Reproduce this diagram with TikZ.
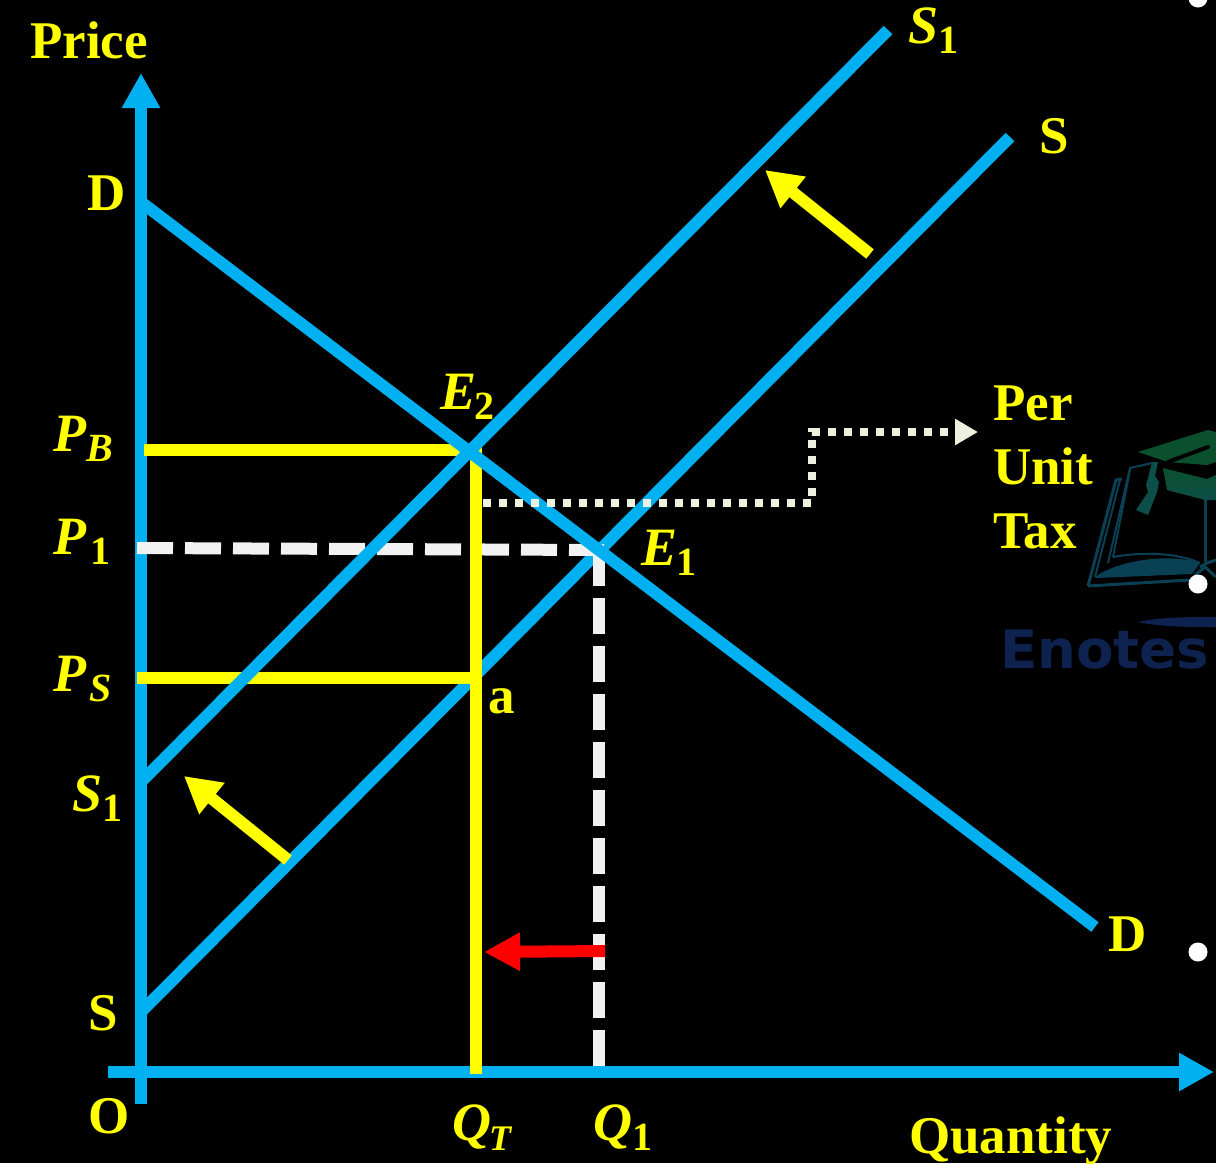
\documentclass[tikz,border=0pt]{standalone}
\usepackage{fontspec}
\setmainfont{Liberation Serif}
\newfontfamily\markfont[FakeStretch=1.03]{DejaVu Sans}
\usetikzlibrary{arrows.meta}
\definecolor{AxisBlue}{RGB}{0,176,240}
\definecolor{LabelYellow}{RGB}{255,255,0}
\definecolor{DashWhite}{RGB}{242,242,242}
\definecolor{DotWhite}{RGB}{235,241,222}
\definecolor{MarkNavy}{RGB}{14,34,80}
\definecolor{CapGreen}{RGB}{10,80,45}
\definecolor{CapTeal}{RGB}{12,78,72}
\definecolor{BookTeal}{RGB}{10,64,84}
\newcommand{\sublab}[2]{{\fontsize{54}{60}\selectfont\textit{#1}}\raisebox{-10.5pt}{\fontsize{40}{40}\selectfont #2}}

\begin{document}
\begin{tikzpicture}[
  x=1pt,y=-1pt,
  curveline/.style={draw=AxisBlue,line width=12pt},
  axisline/.style={draw=AxisBlue,line width=12pt,-{Triangle[length=35pt,width=36pt]}},
  priceline/.style={draw=LabelYellow,line width=12pt},
  guide/.style={draw=DashWhite,line width=12pt,dash pattern=on 36pt off 12pt},
  moved/.style={draw=LabelYellow,line width=12pt,-{Triangle[length=36pt,width=38pt]}},
  lab/.style={text=LabelYellow,anchor=base west,inner sep=0pt,font=\fontsize{53}{64}\selectfont\bfseries}
]
\clip (0,0) rectangle (1216,1163);
\fill[black] (0,0) rectangle (1216,1163);

% watermark
\fill[CapGreen] (1138,452) -- (1208,430) -- (1216,432) -- (1216,462) -- (1207,465) -- (1168,462) -- cycle;
\draw[black,line width=4pt,line cap=round] (1168,462) -- (1208,447);
\shade[top color=CapGreen,bottom color=CapTeal] (1163,468) -- (1207,479) -- (1216,475) -- (1216,500) -- (1205,500) -- (1167,490) -- cycle;
\fill[CapTeal] (1152,462) -- (1148,478) -- (1146,485) -- (1148,492) -- (1136,510) -- (1148,515) -- (1157,492) -- (1159,482) -- (1155,476) -- (1158,462) -- cycle;
\fill[BookTeal] (1095,577) .. controls (1115,562) and (1165,552) .. (1200,563) -- (1192,574) -- (1096,578) -- cycle;
\draw[BookTeal,line width=3pt] (1088,586) -- (1116,480) -- (1122,479);
\draw[BookTeal,line width=3pt] (1088,586) -- (1190,580);
\draw[BookTeal,line width=2pt] (1095,577) -- (1120,480);
\draw[BookTeal,line width=2pt] (1108,563) -- (1130,468) -- (1152,463);
\draw[BookTeal,line width=2pt] (1113,557) -- (1130,470);
\draw[BookTeal,line width=2pt] (1113,557) .. controls (1140,552) and (1175,552) .. (1200,563);
\draw[BookTeal,line width=3pt] (1205,500) -- (1205,562);
\draw[BookTeal,line width=3pt] (1200,567) -- (1207,563) -- (1216,560);
\draw[BookTeal,line width=3pt] (1195,575) -- (1205,567) -- (1216,577);
\fill[MarkNavy] (1138,622) .. controls (1160,617) and (1190,617) .. (1216,617) -- (1216,627) .. controls (1190,627) and (1160,627) .. cycle;
\node[anchor=base west,inner sep=0pt,text=MarkNavy,font=\fontsize{53}{60}\selectfont\markfont\bfseries] (brand) at (1000,668) {Enotes};
\fill[white] (1198,584) circle (9.5);
\fill[white] (1198,952) circle (9.5);
\fill[white] (1198,-2) circle (9.5);

% points on the graph
\coordinate (origin) at (141,1104);
\coordinate (ytop) at (141,73);
\coordinate (xleft) at (108,1072);
\coordinate (xright) at (1214,1072);
\coordinate (dtop) at (141,202);
\coordinate (dend) at (1095,927);
\coordinate (sbot) at (141,1012);
\coordinate (send) at (1010,137);
\coordinate (sonebot) at (141,782);
\coordinate (soneend) at (888,30);
\coordinate (pbleft) at (144,450);
\coordinate (pbright) at (470,450);
\coordinate (psleft) at (137,678);
\coordinate (psright) at (476,678);
\coordinate (qtop) at (476,447);
\coordinate (qbot) at (476,1074);
\coordinate (poneleft) at (137,548);
\coordinate (oneone) at (604,550);
\coordinate (qonetop) at (598.5,550);
\coordinate (qonebot) at (598.5,1066);

% curves and levels
\draw[axisline] (origin) -- (ytop);
\draw[axisline] (xleft) -- (xright);
\draw[curveline] (sbot) -- (send);
\draw[guide] (poneleft) -- (oneone);
\draw[guide] (qonetop) -- (qonebot);
\draw[priceline] (pbleft) -- (pbright);
\draw[priceline] (psleft) -- (psright);
\draw[priceline] (qtop) -- (qbot);
\draw[curveline] (sonebot) -- (soneend);
\draw[curveline] (dtop) -- (dend);

% shifts and tax
\draw[moved] (870,254) -- (765,170);
\draw[moved] (288,860) -- (184,776);
\draw[draw=red,line width=12pt,-{Triangle[length=36pt,width=36pt]}] (605,951) -- (484,952);
\draw[draw=DotWhite,line width=8pt,dash pattern=on 8pt off 8pt,-{Triangle[length=23pt,width=25pt,fill=DotWhite]}] (483,503) -- (812,503) -- (812,432) -- (978,432);

% labels
\node[lab] (price) at (30,58) {Price};
\node[lab] (quantity) at (909,1153) {Quantity};
\node[lab] (zero) at (88,1133) {O};
\node[lab] (dhigh) at (87,210) {D};
\node[lab] (dlow) at (1108,951) {D};
\node[lab] (slow) at (88,1030) {S};
\node[lab] (shigh) at (1039,153) {S};
\node[lab] (pointa) at (488,713) {a};
\node[lab] (sonehigh) at (908,43) {\sublab{S}{1}};
\node[lab] (sonelow) at (72,811) {\sublab{S}{1}};
\node[lab] (pb) at (53,451) {\sublab{P}{\textit{B}}};
\node[lab] (pone) at (53,554) {\sublab{P}{\kern4pt 1}};
\node[lab] (ps) at (53,691) {\sublab{P}{\kern3pt\textit{S}}};
\node[lab] (etwo) at (440,409) {\sublab{E}{\kern-2pt 2}};
\node[lab] (eone) at (641,565) {\sublab{E}{\kern-1pt 1}};
\node[lab] (qt) at (452,1140) {\sublab{Q}{\kern-2pt\fontsize{36}{40}\selectfont\textit{T}}};
\node[lab] (qone) at (593,1140) {\sublab{Q}{1}};
\node[lab,align=left] (tax) at (993,548) {Per\\Unit\\Tax};
\end{tikzpicture}
\end{document}
